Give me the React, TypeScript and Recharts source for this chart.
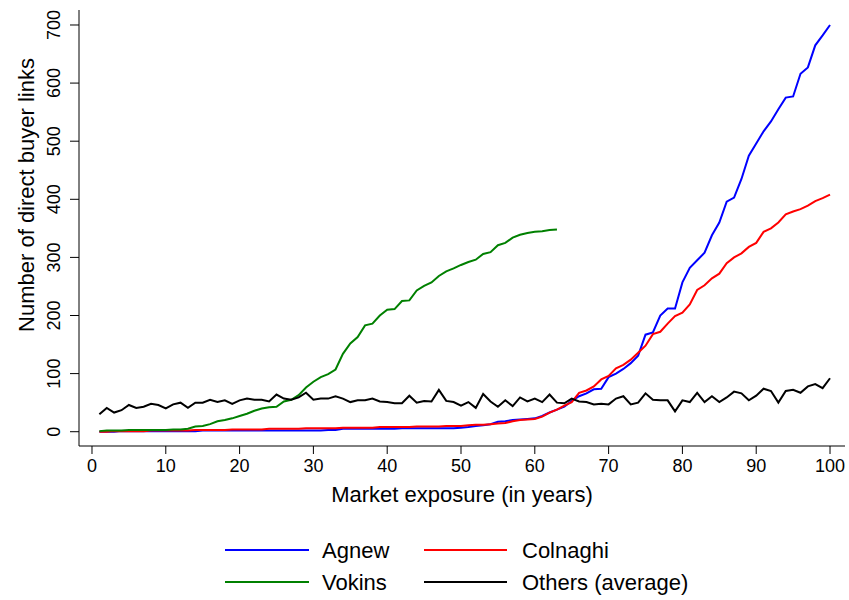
import React from 'react';
import { LineChart, Line, XAxis, YAxis, Legend, Label } from 'recharts';

// Market exposure in years (1..100)
const years = Array.from({ length: 100 }, (_, i) => i + 1);

const agnew = [
  0, 0, 0, 1, 1, 1, 1, 1, 1, 1,
  1, 1, 1, 1, 2, 2, 2, 2, 2, 2,
  2, 2, 2, 2, 2, 2, 2, 2, 2, 2,
  2, 3, 3, 5, 5, 5, 5, 5, 5, 5,
  5, 6, 6, 6, 6, 6, 6, 6, 6, 7,
  8, 10, 11, 13, 17, 18, 20, 21, 22, 23,
  27, 33, 38, 43, 53, 61, 66, 73, 74, 94,
  100, 108, 118, 131, 167, 171, 200, 212, 212, 257,
  282, 295, 308, 338, 360, 396, 403, 435, 475, 496,
  517, 534, 555, 575, 577, 616, 627, 665, 682, 700,
];

const colnaghi = [
  0, 0, 1, 1, 1, 1, 1, 2, 2, 2,
  2, 2, 2, 3, 3, 3, 3, 3, 4, 4,
  4, 4, 4, 5, 5, 5, 5, 5, 6, 6,
  6, 6, 6, 7, 7, 7, 7, 7, 8, 8,
  8, 8, 8, 9, 9, 9, 9, 10, 10, 10,
  11, 12, 12, 13, 14, 15, 18, 20, 21, 22,
  26, 33, 38, 45, 51, 67, 71, 78, 90, 96,
  109, 115, 124, 136, 148, 168, 172, 186, 199, 205,
  219, 244, 252, 264, 272, 290, 300, 307, 318, 325,
  344, 350, 360, 374, 379, 383, 389, 397, 402, 408,
];

const vokins = [
  1, 2, 2, 2, 3, 3, 3, 3, 3, 3,
  4, 4, 5, 9, 10, 13, 18, 20, 23, 27,
  31, 36, 40, 42, 43, 52, 55, 63, 76, 86,
  94, 99, 107, 134, 152, 163, 183, 186, 200, 210,
  211, 225, 226, 243, 251, 257, 268, 276, 281, 287,
  292, 296, 306, 309, 321, 325, 334, 339, 342, 344,
  345, 347, 348,
];

const others = [
  30, 41, 33, 37, 46, 41, 43, 48, 46, 40,
  47, 50, 41, 50, 50, 55, 51, 54, 48, 54,
  57, 55, 55, 52, 64, 57, 55, 59, 67, 55,
  57, 57, 61, 57, 51, 54, 54, 57, 52, 51,
  49, 49, 62, 50, 53, 52, 72, 53, 51, 45,
  51, 41, 65, 52, 43, 54, 44, 59, 52, 57,
  51, 64, 50, 49, 57, 52, 51, 47, 48, 47,
  57, 61, 47, 50, 66, 55, 54, 54, 35, 54,
  51, 67, 51, 61, 51, 59, 69, 66, 54, 62,
  74, 70, 50, 70, 72, 67, 78, 82, 75, 92,
];

const xTicks = [0, 10, 20, 30, 40, 50, 60, 70, 80, 90, 100];
const yTicks = [0, 100, 200, 300, 400, 500, 600, 700];

const series = [
  { key: 'agnew', name: 'Agnew', color: '#0000ff' },
  { key: 'colnaghi', name: 'Colnaghi', color: '#ff0000' },
  { key: 'vokins', name: 'Vokins', color: '#008000' },
  { key: 'others', name: 'Others (average)', color: '#000000' },
];

const data = years.map((year, i) => ({
  year,
  agnew: agnew[i],
  colnaghi: colnaghi[i],
  vokins: i < vokins.length ? vokins[i] : null,
  others: others[i],
}));

const FONT = '"Liberation Sans", Arial, Helvetica, sans-serif';

const XTick = (props: any) => {
  const { x, y, payload } = props;
  return (
    <text x={x} y={y + 18} textAnchor="middle" fontSize={18} fontFamily={FONT} fill="#000">
      {payload.value}
    </text>
  );
};

const YTick = (props: any) => {
  const { x, y, payload } = props;
  const bx = x - 10;
  return (
    <text
      x={bx}
      y={y}
      transform={`rotate(-90, ${bx}, ${y})`}
      textAnchor="middle"
      fontSize={18}
      fontFamily={FONT}
      fill="#000"
    >
      {payload.value}
    </text>
  );
};

const XTitle = (props: any) => {
  const vb = props.viewBox || {};
  const cx = vb.x + vb.width / 2;
  return (
    <text x={cx} y={502} textAnchor="middle" fontSize={22} fontFamily={FONT} fill="#000">
      Market exposure (in years)
    </text>
  );
};

const YTitle = () => (
  <text
    x={34}
    y={195}
    transform="rotate(-90, 34, 195)"
    textAnchor="middle"
    fontSize={22}
    fontFamily={FONT}
    fill="#000"
  >
    Number of direct buyer links
  </text>
);

// legend layout: 2 columns x 2 rows
const legendCols = [
  { lineX1: 225, lineX2: 309, textX: 322 },
  { lineX1: 424, lineX2: 507, textX: 522 },
];
const legendRows = [30, 62];
const legendOrder = ['agnew', 'colnaghi', 'vokins', 'others'];

const LegendBox = () => (
  <svg width={849} height={80} style={{ display: 'block' }}>
    {legendOrder.map((k, i) => {
      const s = series.find((d) => d.key === k)!;
      const col = legendCols[i % 2];
      const ry = legendRows[Math.floor(i / 2)];
      return (
        <g key={k}>
          <line x1={col.lineX1} x2={col.lineX2} y1={ry} y2={ry} stroke={s.color} strokeWidth={2} />
          <text x={col.textX} y={ry + 8} fontSize={22} fontFamily={FONT} fill="#000">
            {s.name}
          </text>
        </g>
      );
    })}
  </svg>
);

export default function App() {
  return (
    <div style={{ position: 'absolute', left: 0, top: 0, width: 849, height: 600, background: '#fff' }}>
      <LineChart width={849} height={600} data={data} margin={{ top: 10, right: 4, bottom: 0, left: 0 }}>
        <XAxis
          type="number"
          dataKey="year"
          domain={[-1.76, 102.03]}
          ticks={xTicks}
          allowDataOverflow
          height={74}
          tickSize={8}
          tickMargin={0}
          tick={<XTick />}
          stroke="#000"
          axisLine={{ stroke: '#000', strokeWidth: 1 }}
          tickLine={{ stroke: '#000', strokeWidth: 1 }}
        >
          <Label content={<XTitle />} />
        </XAxis>
        <YAxis
          type="number"
          domain={[-24.6, 725.8]}
          ticks={yTicks}
          allowDataOverflow
          width={79}
          tickSize={9}
          tickMargin={0}
          tick={<YTick />}
          stroke="#000"
          axisLine={{ stroke: '#000', strokeWidth: 1 }}
          tickLine={{ stroke: '#000', strokeWidth: 1 }}
        >
          <Label content={<YTitle />} />
        </YAxis>
        <Legend
          verticalAlign="bottom"
          height={80}
          content={<LegendBox />}
          wrapperStyle={{ left: 0, width: 849, height: 80 }}
        />
        {series.map((s) => (
          <Line
            key={s.key}
            type="linear"
            dataKey={s.key}
            name={s.name}
            stroke={s.color}
            strokeWidth={2}
            dot={false}
            activeDot={false}
            isAnimationActive={false}
          />
        ))}
      </LineChart>
    </div>
  );
}
